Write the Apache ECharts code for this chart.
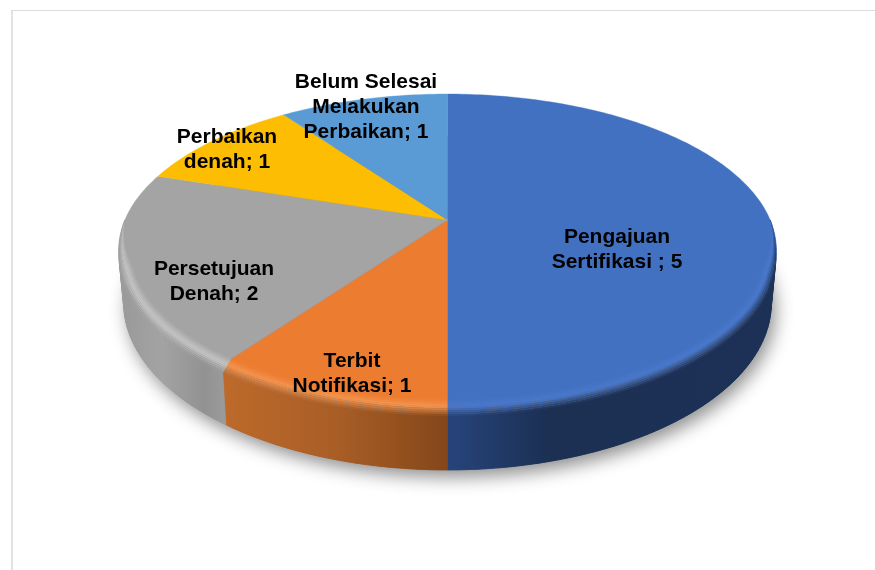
<!DOCTYPE html>
<html>
<head>
<meta charset="utf-8">
<style>html,body{margin:0;padding:0;background:#fff}#c{width:875px;height:570px}</style>
<script src="https://cdn.jsdelivr.net/npm/echarts@6/dist/echarts.min.js"></script>
</head>
<body>
<div id="c"></div>
<script>
// ---- data ----
const categories = ['Pengajuan\nSertifikasi ', 'Terbit\nNotifikasi', 'Persetujuan\nDenah', 'Perbaikan\ndenah', 'Belum Selesai\nMelakukan\nPerbaikan'];
const values = [5, 1, 2, 1, 1];

// ---- styles ----
const topColors = ['#4271c2', '#ec7c30', '#a4a4a4', '#fdbd02', '#5b9bd5'];
const rimHighlights = ['#4a79cb', '#f49550', '#c6c6c6', '#ffc000', '#5b9bd5'];
const wallStops = [
  [[0, '#27447a'], [0.3, '#1c3054'], [1, '#1c3156']],
  [[0, '#bd6a2b'], [0.5, '#a95e26'], [1, '#84471a']],
  [[0, '#999999'], [0.4, '#a3a3a3'], [0.8, '#929292'], [1, '#9b9b9b']],
  [[0, '#c79700'], [1, '#c79700']],
  [[0, '#4679aa'], [1, '#4679aa']]
];
const labelAnchors = [[617, 250], [352, 374], [214, 281.5], [227, 149.5], [366, 107.5]];

// ---- projection of the tilted disc ----
const CX = 447.5, CY = 220, A = 322.7, B = 150.5, K = 0.195, DEPTH = 50.7, RIM = 0.14, BEVEL = 0.035;
const FRONT_A = Math.PI / 2, FRONT_B = 3 * Math.PI / 2;
function project(theta, r, drop) {
  const u = r * Math.sin(theta), v = -r * Math.cos(theta), w = 1 - K * v;
  return [CX + A * u / w * (1 - 0.016 * drop), CY + (B * v + DEPTH * drop) / w];
}
function front(theta) {
  const v = -Math.cos(theta);
  return Math.max(0, Math.min(1, v / 0.3));
}
function rimPoint(theta, t) {
  const f = front(theta);
  return project(theta, 1 - BEVEL * f * (1 - t), RIM * f * t);
}
function arcAngles(a0, a1, stepDeg) {
  const n = Math.max(2, Math.ceil((a1 - a0) / (stepDeg * Math.PI / 180))), out = [];
  for (let i = 0; i <= n; i++) out.push(a0 + (a1 - a0) * i / n);
  return out;
}
function hex(c) { return [1, 3, 5].map(i => parseInt(c.substr(i, 2), 16)); }
function mix(a, b, t) {
  const x = hex(a), y = hex(b);
  return 'rgb(' + x.map((q, i) => Math.round(q + (y[i] - q) * t)).join(',') + ')';
}
const total = values.reduce((a, b) => a + b, 0);

function renderSlice(params, api) {
  const i = params.dataIndex, val = api.value(1);
  let before = 0;
  for (let j = 0; j < i; j++) before += values[j];
  const a0 = before / total * 2 * Math.PI, a1 = a0 + val / total * 2 * Math.PI;
  const children = [];

  if (i === 0) {
    // soft shadow under the whole pie
    children.push({
      type: 'polygon', z2: 0,
      shape: { points: arcAngles(0, 2 * Math.PI, 2).map(th => project(th, 1, 1)) },
      style: { fill: '#777', shadowBlur: 18, shadowColor: 'rgba(0,0,0,0.45)', shadowOffsetX: 4, shadowOffsetY: 7 }
    });
  }

  // the near part of the slice has a side wall and a bevel
  const fa = Math.max(a0, FRONT_A), fb = Math.min(a1, FRONT_B);
  if (fb > fa) {
    const ang = arcAngles(fa, fb, 1.5);
    const xs = [];
    ang.forEach(th => { xs.push(project(th, 1, 0)[0], project(th, 1, 1)[0]); });
    const x0 = Math.min.apply(null, xs), x1 = Math.max.apply(null, xs);
    const grad = stops => ({ type: 'linear', x: x0, y: 0, x2: x1, y2: 0, global: true,
      colorStops: stops.map(s => ({ offset: s[0], color: s[1] })) });

    // side wall: narrow quads keep the silhouette straight, one polygon covers them evenly
    const wallFill = grad(wallStops[i]);
    for (let q = 0; q < ang.length - 1; q++) {
      const p = ang[q], n = ang[q + 1];
      children.push({
        type: 'polygon', z2: 1,
        shape: { points: [rimPoint(p, 1), rimPoint(n, 1), project(n, 1, 1), project(p, 1, 1)] },
        style: { fill: wallFill, stroke: wallFill, lineWidth: 0.6 }
      });
    }
    children.push({
      type: 'polygon', z2: 1.5,
      shape: { points: ang.map(th => rimPoint(th, 1)).concat(ang.map(th => project(th, 1, 1)).reverse()) },
      style: { fill: wallFill, stroke: wallFill, lineWidth: 0.5 }
    });

    // bevel strips fade from the top colour through a highlight into the wall
    const STRIPS = 9;
    for (let s = 0; s < STRIPS; s++) {
      const t0 = s / STRIPS, t1 = (s + 1) / STRIPS, tm = (t0 + t1) / 2;
      const stops = wallStops[i].map(st => {
        const c = tm < 0.45 ? mix(topColors[i], rimHighlights[i], tm / 0.45)
                            : mix(rimHighlights[i], st[1], (tm - 0.45) / 0.55);
        return [st[0], c];
      });
      const inner = ang.map(th => rimPoint(th, t0));
      const out = ang.map(th => rimPoint(th, t1)).reverse();
      children.push({
        type: 'polygon', z2: 3,
        shape: { points: inner.concat(out) },
        style: { fill: grad(stops) }
      });
    }
  }

  // top face
  const topPts = [[CX, CY]].concat(arcAngles(a0, a1, 1).map(th => project(th, 1, 0)));
  children.push({
    type: 'polygon', z2: 2,
    shape: { points: topPts },
    style: { fill: topColors[i], stroke: topColors[i], lineWidth: 0.4 }
  });

  // label
  children.push({
    type: 'text', z2: 10,
    x: labelAnchors[i][0], y: labelAnchors[i][1],
    style: {
      text: categories[i] + '; ' + val,
      fill: '#000',
      font: 'bold 21px "Liberation Sans", Arial, sans-serif',
      lineHeight: 24.8,
      align: 'center', verticalAlign: 'middle'
    }
  });
  return { type: 'group', children };
}

const chart = echarts.init(document.getElementById('c'), null, { renderer: 'canvas' });
chart.setOption({
  animation: false,
  backgroundColor: '#ffffff',
  graphic: [
    { type: 'rect', shape: { x: 11, y: 10, width: 2, height: 560 }, style: { fill: '#e3e3e3' }, silent: true },
    { type: 'rect', shape: { x: 11, y: 10, width: 864, height: 1 }, style: { fill: '#dcdcdc' }, silent: true }
  ],
  series: [{
    type: 'custom',
    coordinateSystem: 'none',
    silent: true,
    renderItem: renderSlice,
    data: values.map((v, i) => [i, v])
  }]
});
</script>
</body>
</html>
